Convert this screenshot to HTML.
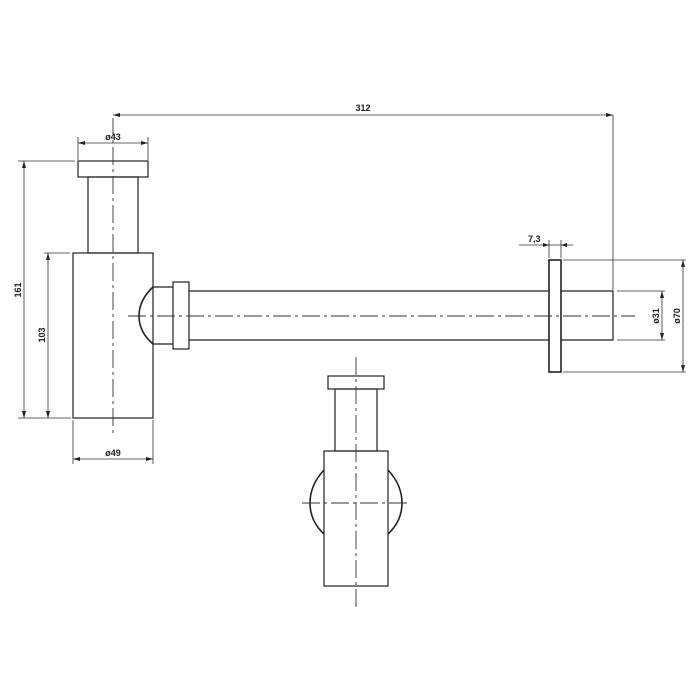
<!DOCTYPE html>
<html><head><style>body{margin:0;background:#fff}svg{display:block}</style></head><body>
<svg width="700" height="700" viewBox="0 0 700 700" xmlns="http://www.w3.org/2000/svg" font-family="Liberation Sans, sans-serif" font-size="9" font-weight="bold">
<g fill="none" stroke="#222" stroke-width="1.2">
<rect x="78" y="161" width="70" height="16"/>
<rect x="88" y="177" width="50" height="76"/>
<rect x="73" y="253" width="80" height="165"/>
<path d="M153 287 H173 M153 344 H173"/>
<path d="M153 287 Q139 300 139 316 Q139 332 153 344" stroke-width="1.6"/>
<rect x="173" y="282" width="16" height="67"/>
<path d="M189 291 H549 M189 340 H549"/>
<rect x="549" y="260" width="12" height="112" stroke-width="1.6"/>
<path d="M561 291 H613 V340 H561"/>
<rect x="328" y="376" width="56" height="13"/>
<rect x="335" y="389" width="42" height="62"/>
<rect x="324" y="451" width="64" height="135"/>
<path d="M324 470 Q310 485 310 503 Q310 521 324 534" stroke-width="1.6"/>
<path d="M388 470 Q402 485 402 503 Q402 521 388 534" stroke-width="1.6"/>
</g>
<g fill="none" stroke="#333" stroke-width="0.9" stroke-dasharray="18,4,3,4">
<path d="M113 118 V435"/>
<path d="M128 316 H635"/>
<path d="M356 357 V610"/>
<path d="M302 503 H410"/>
</g>
<g fill="none" stroke="#333" stroke-width="0.8">
<path d="M113 115 H613 V290"/>
<path d="M78 143 H148 M78 137 V160 M148 137 V160"/>
<path d="M73 459 H153 M73 420 V464 M153 420 V464"/>
<path d="M18 161 H75 M24 161 V418 M18 418 H71"/>
<path d="M44 253 H70 M48 253 V418"/>
<path d="M519 245 H573 M549 240 V258 M561 240 V258"/>
<path d="M563 260 H686 M563 372 H686 M683 260 V372"/>
<path d="M617 291 H665 M617 340 H665 M662 291 V340"/>
</g>
<g fill="#222">
<path d="M113 115 l7 -2 v4z M613 115 l-7 -2 v4z"/>
<path d="M78 143 l7 -2 v4z M148 143 l-7 -2 v4z"/>
<path d="M73 459 l7 -2 v4z M153 459 l-7 -2 v4z"/>
<path d="M24 161 l-2 7 h4z M24 418 l-2 -7 h4z"/>
<path d="M48 253 l-2 7 h4z M48 418 l-2 -7 h4z"/>
<path d="M683 260 l-2 7 h4z M683 372 l-2 -7 h4z"/>
<path d="M662 291 l-2 7 h4z M662 340 l-2 -7 h4z"/>
<path d="M549 245 l-6 -2 v4z M561 245 l6 -2 v4z"/>
</g>
<g fill="#222">
<text x="363" y="111" text-anchor="middle">312</text>
<text x="113" y="140" text-anchor="middle">ø43</text>
<text x="113" y="456" text-anchor="middle">ø49</text>
<text x="528" y="242">7,3</text>
<text transform="translate(21 290) rotate(-90)" text-anchor="middle">161</text>
<text transform="translate(45 335) rotate(-90)" text-anchor="middle">103</text>
<text transform="translate(659 316) rotate(-90)" text-anchor="middle">ø31</text>
<text transform="translate(680 316) rotate(-90)" text-anchor="middle">ø70</text>
</g>
</svg>
</body></html>
